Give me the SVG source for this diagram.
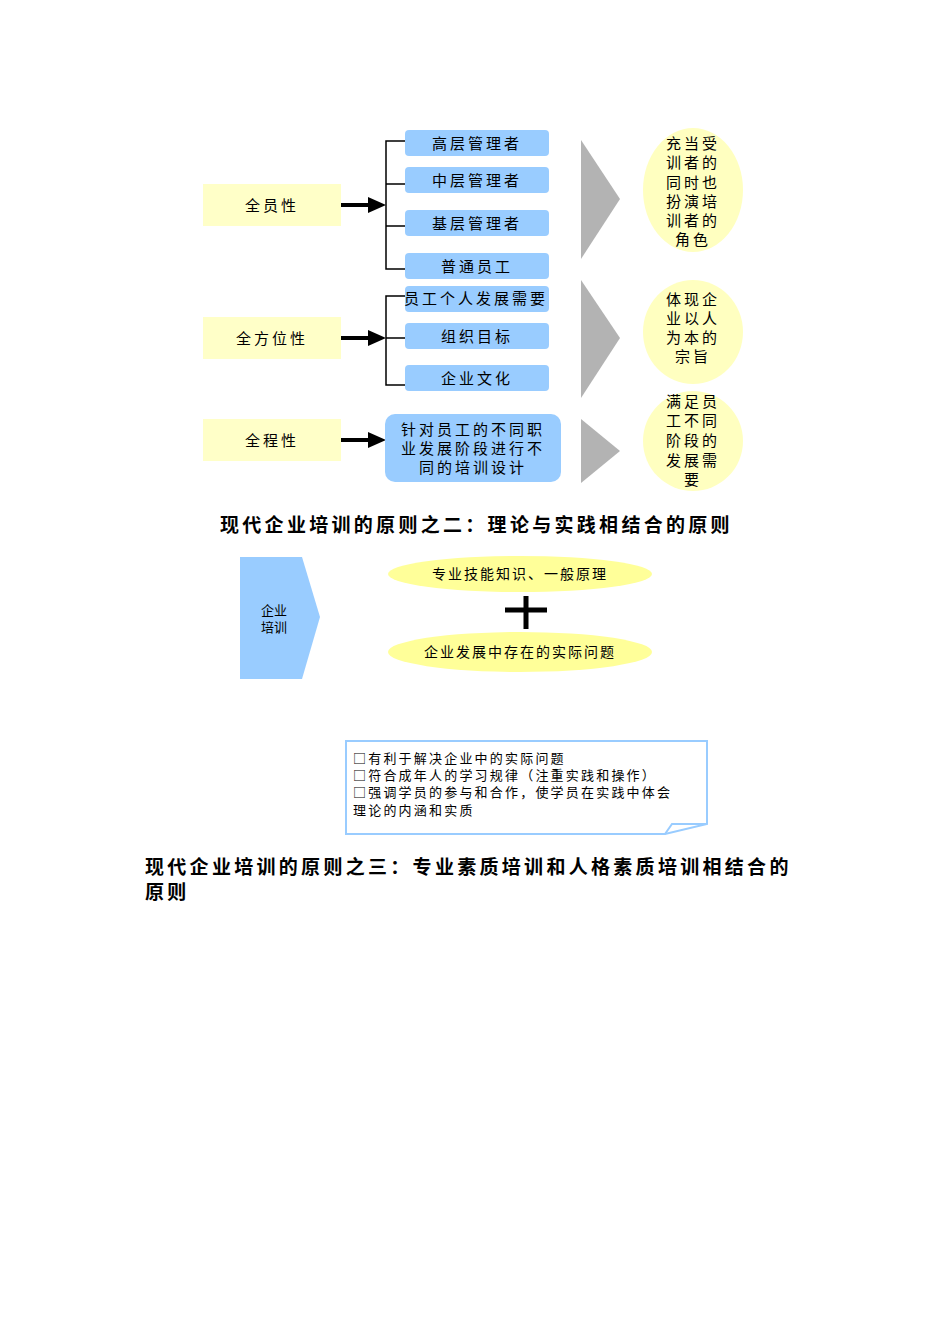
<svg xmlns="http://www.w3.org/2000/svg" width="950" height="1344" viewBox="0 0 950 1344">
<style>
text{font-family:"Noto Sans CJK SC","Noto Sans",sans-serif;fill:#000}
.y{fill:#ffffc8}
.b{fill:#99ccff}
.c{fill:#ffffc0}
.g{fill:#b3b3b3}
.t{font-size:15px;text-anchor:middle;letter-spacing:3px}
.s{font-size:14px;text-anchor:middle;letter-spacing:2px}
.h{font-size:19px;font-weight:bold;letter-spacing:3.3px}
.n{font-size:13px}
.nl{font-size:13px;letter-spacing:2.2px}
.ln{stroke:#000;stroke-width:1.5;fill:none}
.ar{stroke:#000;stroke-width:4;fill:none}
</style>
<rect width="950" height="1344" fill="#fff"/>
<g id="connectors">
<path class="ln" d="M405 141H386V269H405M386 184H405M386 226H405"/>
<path class="ln" d="M405 296H386V385H405M386 338H405"/>
<path class="ar" d="M341 205H370M341 338H370M341 440H370"/>
<polygon points="368,197 386,205 368,213"/>
<polygon points="368,330 386,338 368,346"/>
<polygon points="368,432 386,440 368,448"/>
</g>
<g id="n1"><rect class="y" x="203" y="184" width="138" height="42"/><text class="t" x="272" y="211">全员性</text></g>
<g id="n2"><rect class="y" x="203" y="317" width="138" height="42"/><text class="t" x="272" y="344">全方位性</text></g>
<g id="n3"><rect class="y" x="203" y="419" width="138" height="42"/><text class="t" x="272" y="446">全程性</text></g>
<g id="b1"><rect class="b" x="405" y="130" width="144" height="26" rx="4"/><text class="t" x="477" y="149">高层管理者</text></g>
<g id="b2"><rect class="b" x="405" y="167" width="144" height="26" rx="4"/><text class="t" x="477" y="186">中层管理者</text></g>
<g id="b3"><rect class="b" x="405" y="210" width="144" height="26" rx="4"/><text class="t" x="477" y="229">基层管理者</text></g>
<g id="b4"><rect class="b" x="405" y="253" width="144" height="26" rx="4"/><text class="t" x="477" y="272">普通员工</text></g>
<g id="b5"><rect class="b" x="405" y="286" width="144" height="26" rx="4"/><text class="t" x="476" y="304">员工个人发展需要</text></g>
<g id="b6"><rect class="b" x="405" y="323" width="144" height="26" rx="4"/><text class="t" x="477" y="342">组织目标</text></g>
<g id="b7"><rect class="b" x="405" y="365" width="144" height="26" rx="4"/><text class="t" x="477" y="384">企业文化</text></g>
<g id="b8"><rect class="b" x="385" y="414" width="176" height="68" rx="10"/>
<text class="t" x="473" y="435">针对员工的不同职</text><text class="t" x="473" y="454">业发展阶段进行不</text><text class="t" x="473" y="473">同的培训设计</text></g>
<g id="arrows">
<polygon class="g" points="581,140 620,199 581,259"/>
<polygon class="g" points="581,280 620,338 581,398"/>
<polygon class="g" points="581,419 620,451 581,483"/>
</g>
<g id="c1"><ellipse class="c" cx="693" cy="190" rx="50" ry="62"/>
<text class="t" x="693" y="149">充当受</text><text class="t" x="693" y="168">训者的</text><text class="t" x="693" y="188">同时也</text><text class="t" x="693" y="207">扮演培</text><text class="t" x="693" y="226">训者的</text><text class="t" x="693" y="245">角色</text></g>
<g id="c2"><ellipse class="c" cx="693" cy="332" rx="50" ry="52"/>
<text class="t" x="693" y="305">体现企</text><text class="t" x="693" y="324">业以人</text><text class="t" x="693" y="343">为本的</text><text class="t" x="693" y="362">宗旨</text></g>
<g id="c3"><ellipse class="c" cx="693" cy="441" rx="50" ry="50"/>
<text class="t" x="693" y="407">满足员</text><text class="t" x="693" y="426">工不同</text><text class="t" x="693" y="446">阶段的</text><text class="t" x="693" y="466">发展需</text><text class="t" x="693" y="485">要</text></g>
<text class="h" x="220" y="532">现代企业培训的原则之二：理论与实践相结合的原则</text>
<g id="qy"><polygon class="b" points="240,557 302,557 320,617 302,679 240,679"/>
<text class="n" x="274" y="615" text-anchor="middle">企业</text><text class="n" x="274" y="632" text-anchor="middle">培训</text></g>
<g id="e1"><ellipse cx="520" cy="574" rx="132" ry="18" fill="#ffff99"/><text class="s" x="520" y="579">专业技能知识、一般原理</text></g>
<g id="plus"><path d="M505 610H547M526 596V629" stroke="#000" stroke-width="5"/></g>
<g id="e2"><ellipse cx="520" cy="652" rx="132" ry="20" fill="#ffff99"/><text class="s" x="520" y="657">企业发展中存在的实际问题</text></g>
<g id="note"><path d="M346 741H707V824L665 834H346Z" fill="#fff" stroke="#99ccff" stroke-width="2"/>
<path d="M707 824L672 824L665 834" fill="none" stroke="#99ccff" stroke-width="2"/>
<text class="nl" x="353" y="763">□有利于解决企业中的实际问题</text>
<text class="nl" x="353" y="780">□符合成年人的学习规律（注重实践和操作）</text>
<text class="nl" x="353" y="797">□强调学员的参与和合作，使学员在实践中体会</text>
<text class="nl" x="353" y="815">理论的内涵和实质</text></g>
<text class="h" x="145" y="874">现代企业培训的原则之三：专业素质培训和人格素质培训相结合的</text>
<text class="h" x="145" y="899">原则</text>
</svg>
